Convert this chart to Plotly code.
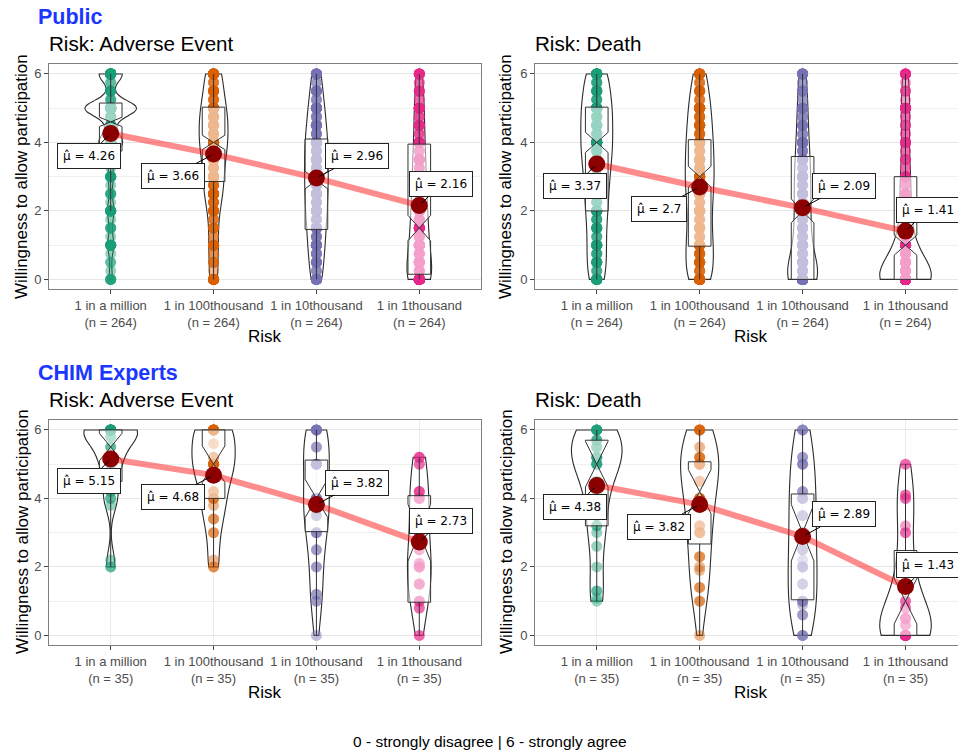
import numpy as np
import plotly.graph_objects as go

# ---------------- data ----------------
CATEGORIES = ["1 in a million", "1 in 100thousand", "1 in 10thousand", "1 in 1thousand"]
GROUP_COLORS = ["#1B9E77", "#D95F02", "#7570B3", "#E7298A"]
N_PUBLIC = 264
N_CHIM = 35

# response grid used for the Public sample (0 = strongly disagree ... 6 = strongly agree)
PUB_GRID = [0, 0.25, 0.5, 0.75, 1, 1.25, 1.5, 1.75, 2, 2.25, 2.5, 2.75, 3,
            3.25, 3.5, 3.75, 4, 4.25, 4.5, 4.75, 5, 5.25, 5.5, 5.75, 6]

# counts per grid value, one row per risk level
PUB_AE_COUNTS = [
    [5, 1, 2, 1, 10, 1, 4, 1, 11, 1, 4, 1, 8, 1, 6, 3, 40, 4, 10, 5, 92, 3, 6, 2, 42],
    [14, 1, 4, 2, 12, 2, 5, 3, 8, 5, 18, 5, 18, 5, 16, 8, 28, 8, 20, 8, 29, 4, 10, 3, 28],
    [16, 3, 9, 5, 16, 5, 14, 5, 20, 6, 17, 6, 22, 6, 17, 6, 23, 5, 14, 4, 18, 3, 8, 2, 14],
    [52, 6, 18, 6, 22, 5, 16, 5, 19, 4, 12, 4, 16, 4, 11, 3, 13, 3, 8, 3, 13, 2, 6, 2, 11],
]
PUB_D_COUNTS = [
    [18, 3, 9, 4, 14, 3, 8, 4, 17, 4, 11, 5, 18, 5, 14, 7, 24, 6, 12, 7, 27, 4, 9, 4, 27],
    [28, 4, 12, 6, 20, 5, 11, 5, 16, 5, 14, 6, 20, 6, 14, 5, 20, 5, 11, 5, 18, 3, 8, 3, 14],
    [66, 6, 17, 5, 16, 5, 12, 5, 16, 4, 11, 5, 18, 4, 9, 4, 15, 3, 6, 3, 13, 2, 5, 2, 12],
    [115, 8, 18, 6, 20, 4, 7, 3, 11, 3, 6, 3, 11, 2, 4, 2, 8, 2, 3, 2, 12, 1, 3, 1, 9],
]

CHIM_AE_VALUES = [
    [2, 2, 2.2, 3.8, 4, 4, 4.2, 4.2, 4.8, 4.8, 5, 5, 5.2, 5.2, 5.2, 5.5, 5.5, 5.8, 5.8] + [6] * 16,
    [2, 2, 2.2, 3, 3, 3.4, 3.4, 3.8, 4, 4, 4, 4.2, 4.2, 4.8, 4.8] + [5] * 7 + [5.2, 5.2, 5.6] + [6] * 10,
    [0, 1, 1, 1.2, 1.2, 2, 2, 2.5, 2.5, 3, 3, 3, 3.5, 3.5, 3.7, 3.7] + [4] * 5 + [5] * 6 + [5.5, 5.5] + [6] * 6,
    [0, 0, 0.8, 0.8, 1, 1, 1, 1.5, 1.5, 1.5, 2, 2, 2, 2, 2.1, 2.1, 2.5, 2.5, 3, 3, 3, 3,
     3.5, 3.5, 4, 4, 4, 4.2, 4.2, 4.2, 5, 5, 5.2, 5.2, 5.2],
]
CHIM_D_VALUES = [
    [1, 1.1, 1.3, 1.3, 2, 2.6, 3, 3.2, 3.2, 3.5, 3.5, 4.2, 4.2, 4.5, 4.5] + [5] * 4 + [5.2] * 4
    + [5.5] * 3 + [5.7] * 3 + [6] * 6,
    [0, 1, 1, 1.4, 1.4, 1.9, 2, 2.3, 2.3, 3, 3, 3, 3.2, 3.2] + [4] * 5 + [4.5, 4.5] + [5] * 5
    + [5.2] * 3 + [5.5] + [6] * 5,
    [0, 0, 0, 0.6, 0.6, 0.9, 1, 1, 1, 1.5, 1.5, 2, 2, 2, 2.2, 2.5, 2.5, 3, 3, 3, 3.5, 3.5,
     4, 4, 4, 4.2, 4.2, 5, 5, 5, 5.2, 5.2, 6, 6, 6],
    [0] * 12 + [0.3, 0.3, 0.5, 0.5, 0.5, 0.8, 0.8, 1, 1, 1.5, 1.5, 2, 2, 2, 3, 3, 3.2, 4, 4,
                4.1, 4.1, 5, 5],
]

# box-plot statistics
PUB_AE_Q1 = [3.75, 2.86, 1.46, 0.15]
PUB_AE_MED = [4.6, 4.0, 2.9, 1.5]
PUB_AE_Q3 = [5.15, 5.03, 4.1, 3.95]
PUB_AE_LO = [2.0, 0, 0, 0]
PUB_AE_HI = [6, 6, 6, 6]

PUB_D_Q1 = [2.0, 0.97, 0, 0]
PUB_D_MED = [4.0, 3.0, 2.0, 1.0]
PUB_D_Q3 = [5.03, 4.08, 3.59, 3.0]
PUB_D_LO = [0, 0, 0, 0]
PUB_D_HI = [6, 6, 6, 6]

CHIM_AE_Q1 = [4.5, 4.0, 3.03, 0.97]
CHIM_AE_MED = [5.5, 5.0, 4.0, 3.0]
CHIM_AE_Q3 = [6.0, 6.0, 5.12, 4.08]
CHIM_AE_LO = [2.0, 2.0, 0, 0]
CHIM_AE_HI = [6, 6, 6, 5.2]

CHIM_D_Q1 = [3.2, 2.67, 1.04, 0]
CHIM_D_MED = [5.0, 4.2, 3.0, 1.0]
CHIM_D_Q3 = [5.7, 5.07, 4.13, 2.48]
CHIM_D_LO = [1.0, 0, 0, 0]
CHIM_D_HI = [6, 6, 6, 5.0]

PUB_AE_MEANS = [4.26, 3.66, 2.96, 2.16]
PUB_D_MEANS = [3.37, 2.70, 2.09, 1.41]
CHIM_AE_MEANS = [5.15, 4.68, 3.82, 2.73]
CHIM_D_MEANS = [4.38, 3.82, 2.89, 1.43]

# ---------------- styling ----------------
W, H = 958, 754
FONT = "Liberation Sans, Arial, Helvetica, sans-serif"
LABEL_FONT = "DejaVu Sans, sans-serif"
LABEL_DX = [-22, -41, 41, 22]
LABEL_DY = [22, 22, -22, -21]
# maximum violin widths (category units), as drawn in the picture
PUB_AE_VW = [0.50, 0.28, 0.23, 0.24]
PUB_D_VW = [0.31, 0.28, 0.29, 0.50]
CHIM_AE_VW = [0.52, 0.42, 0.25, 0.23]
CHIM_D_VW = [0.49, 0.37, 0.28, 0.50]


def px_x(p):
    return p / W


def px_y(p):
    return 1 - p / H


def expand(grid, counts):
    return list(np.repeat(grid, counts))


def nrd0(v):
    v = np.asarray(v, dtype=float)
    sd = v.std(ddof=1)
    q75, q25 = np.percentile(v, [75, 25])
    lo = min(sd, (q75 - q25) / 1.34) or sd
    return 0.9 * lo * len(v) ** -0.2


panels = [
    dict(vals=[expand(PUB_GRID, c) for c in PUB_AE_COUNTS], n=N_PUBLIC, vw=PUB_AE_VW,
         q1=PUB_AE_Q1, med=PUB_AE_MED, q3=PUB_AE_Q3, lo=PUB_AE_LO, hi=PUB_AE_HI, means=PUB_AE_MEANS,
         xd=[px_x(49), px_x(481)], yd=[px_y(289), px_y(64)], xr=[0.4, 4.6]),
    dict(vals=[expand(PUB_GRID, c) for c in PUB_D_COUNTS], n=N_PUBLIC, vw=PUB_D_VW,
         q1=PUB_D_Q1, med=PUB_D_MED, q3=PUB_D_Q3, lo=PUB_D_LO, hi=PUB_D_HI, means=PUB_D_MEANS,
         xd=[px_x(535), 1.0], yd=[px_y(289), px_y(64)], xr=[0.4, 4.51]),
    dict(vals=CHIM_AE_VALUES, n=N_CHIM, vw=CHIM_AE_VW,
         q1=CHIM_AE_Q1, med=CHIM_AE_MED, q3=CHIM_AE_Q3, lo=CHIM_AE_LO, hi=CHIM_AE_HI, means=CHIM_AE_MEANS,
         xd=[px_x(49), px_x(481)], yd=[px_y(645), px_y(420)], xr=[0.4, 4.6]),
    dict(vals=CHIM_D_VALUES, n=N_CHIM, vw=CHIM_D_VW,
         q1=CHIM_D_Q1, med=CHIM_D_MED, q3=CHIM_D_Q3, lo=CHIM_D_LO, hi=CHIM_D_HI, means=CHIM_D_MEANS,
         xd=[px_x(535), 1.0], yd=[px_y(645), px_y(420)], xr=[0.4, 4.51]),
]

fig = go.Figure()
annotations = []
layout_axes = {}
xpos = [1, 2, 3, 4]

for pi, p in enumerate(panels):
    sfx = "" if pi == 0 else str(pi + 1)
    xa, ya = "x" + sfx, "y" + sfx
    # violins with points
    for g in range(4):
        vals = p["vals"][g]
        fig.add_trace(go.Violin(
            name="p%dg%d" % (pi, g),
            x=[xpos[g]] * len(vals), y=vals, xaxis=xa, yaxis=ya,
            width=p["vw"][g], scalemode="width", spanmode="hard", bandwidth=nrd0(vals),
            points="all", pointpos=0, jitter=0,
            line=dict(color="#2b2b2b", width=1.1), fillcolor="rgba(0,0,0,0)",
            marker=dict(color=GROUP_COLORS[g], size=11, opacity=0.45, line=dict(width=0)),
            box_visible=False, meanline_visible=False, hoverinfo="skip", showlegend=False,
        ))
    # boxes
    notch = [1.58 * (b - a) / np.sqrt(p["n"]) for a, b in zip(p["q1"], p["q3"])]
    fig.add_trace(go.Box(
        x=xpos, q1=p["q1"], median=p["med"], q3=p["q3"],
        lowerfence=p["lo"], upperfence=p["hi"], notchspan=notch,
        notched=True, notchwidth=0.5, width=0.22, whiskerwidth=0,
        fillcolor="rgba(255,255,255,0.55)", line=dict(color="#333333", width=1),
        boxpoints=False, xaxis=xa, yaxis=ya, hoverinfo="skip", showlegend=False,
    ))
    # mean path and points
    fig.add_trace(go.Scatter(
        x=xpos, y=p["means"], mode="lines", xaxis=xa, yaxis=ya,
        line=dict(color="rgba(255,0,0,0.45)", width=6), hoverinfo="skip", showlegend=False,
    ))
    fig.add_trace(go.Scatter(
        x=xpos, y=p["means"], mode="markers", xaxis=xa, yaxis=ya,
        marker=dict(color="#8B0000", size=17), hoverinfo="skip", showlegend=False,
    ))
    for g in range(4):
        annotations.append(dict(
            x=xpos[g], y=p["means"][g], xref=xa, yref=ya,
            text="\u03bc\u0302 = %s" % ("%g" % p["means"][g]),
            showarrow=True, arrowhead=0, arrowwidth=1, arrowcolor="black",
            ax=LABEL_DX[g], ay=LABEL_DY[g], standoff=3,
            bgcolor="white", bordercolor="#222222", borderwidth=1, borderpad=5,
            font=dict(family=LABEL_FONT, size=12, color="black"),
        ))
    ticktext = ["%s<br>(n = %d)" % (c, p["n"]) for c in CATEGORIES]
    layout_axes["xaxis" + sfx] = dict(
        domain=p["xd"], range=p["xr"], anchor=ya, tickmode="array", tickvals=xpos,
        ticktext=ticktext, showgrid=True, gridcolor="#ebebeb", gridwidth=1,
        zeroline=False, showline=True, mirror=True, linecolor="#7f7f7f", linewidth=1,
        ticks="outside", ticklen=4, tickcolor="#444444",
        tickfont=dict(family=FONT, size=13, color="#4d4d4d"), fixedrange=True,
    )
    layout_axes["yaxis" + sfx] = dict(
        domain=p["yd"], range=[-0.28, 6.29], anchor=xa, tickvals=[0, 2, 4, 6],
        showgrid=True, gridcolor="#e6e6e6", gridwidth=1,
        minor=dict(dtick=1, tick0=0, showgrid=True, gridcolor="#f0f0f0", gridwidth=0.8),
        zeroline=False, showline=True, mirror=True, linecolor="#7f7f7f", linewidth=1,
        ticks="outside", ticklen=4, tickcolor="#444444",
        tickfont=dict(family=FONT, size=13, color="#4d4d4d"), fixedrange=True,
    )


def text_ann(x, y, text, size, color="black", bold=False, xanchor="left", angle=0):
    return dict(x=px_x(x), y=px_y(y), xref="paper", yref="paper", text=("<b>%s</b>" % text) if bold else text,
                showarrow=False, xanchor=xanchor, yanchor="middle", textangle=angle,
                font=dict(family=FONT, size=size, color=color))


annotations += [
    text_ann(36, 17, "Public", 21.5, color="#1a36ff", bold=True),
    text_ann(47, 44, "Risk: Adverse Event", 20.6),
    text_ann(533, 44, "Risk: Death", 20.6),
    text_ann(36, 373, "CHIM Experts", 21.5, color="#1a36ff", bold=True),
    text_ann(47, 399, "Risk: Adverse Event", 20.6),
    text_ann(533, 399, "Risk: Death", 20.6),
    text_ann(22, 177, "Willingness to allow participation", 17, xanchor="center", angle=-90),
    text_ann(506, 177, "Willingness to allow participation", 17, xanchor="center", angle=-90),
    text_ann(22, 532, "Willingness to allow participation", 17, xanchor="center", angle=-90),
    text_ann(506, 532, "Willingness to allow participation", 17, xanchor="center", angle=-90),
    text_ann(265, 337, "Risk", 17, xanchor="center"),
    text_ann(751, 337, "Risk", 17, xanchor="center"),
    text_ann(265, 692, "Risk", 17, xanchor="center"),
    text_ann(751, 692, "Risk", 17, xanchor="center"),
    text_ann(490, 741, "0 - strongly disagree | 6 - strongly agree", 15.5, xanchor="center"),
]

fig.update_layout(
    width=W, height=H, margin=dict(l=0, r=0, t=0, b=0),
    paper_bgcolor="white", plot_bgcolor="white",
    violinmode="overlay", boxmode="overlay", showlegend=False,
    annotations=annotations, font=dict(family=FONT),
    **layout_axes,
)

fig.write_html(
    "out.html",
    config={"displayModeBar": False},
    post_script="document.body.style.margin='0px';document.body.style.overflow='hidden';",
)
